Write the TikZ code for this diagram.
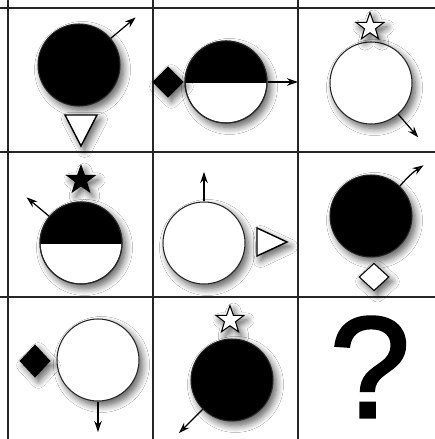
\documentclass[tikz,border=0pt]{standalone}
\usepackage{fontspec}
\newfontfamily\qfont[FakeBold=2]{Liberation Sans}
\usetikzlibrary{shapes.geometric,arrows.meta,shadows.blur,calc}
\begin{document}
\begin{tikzpicture}[x=0.02cm,y=0.02cm,
  sh/.style={blur shadow={shadow xshift=0.07cm,shadow yshift=-0.09cm,shadow blur radius=0.14cm,shadow blur steps=8,shadow opacity=65}},
  ball/.style={circle,draw=black!85,line width=0.6pt,minimum size=1.64cm,inner sep=0pt,sh},
  blackball/.style={ball,fill=black},
  whiteball/.style={ball,fill=white},
  arr/.style={line width=0.7pt,-{Stealth[length=0.22cm,width=0.15cm]}},
  gridline/.style={line width=0.9pt,black!85},
  starshape/.style={star,star points=5,star point ratio=2.5,minimum size=0.58cm,inner sep=0pt,draw=black,line width=0.6pt,sh},
  dia/.style={diamond,minimum width=0.6cm,minimum height=0.6cm,inner sep=0pt,draw=black,line width=0.6pt,sh},
  tri/.style={draw=black,line width=0.8pt,fill=white,sh}
]
\useasboundingbox (0,0) rectangle (435,439);
\clip (0,0) rectangle (435,439);
\fill[white] (0,0) rectangle (435,439);
% grid
\foreach \gx in {8,153,298,443} \draw[gridline] (\gx,-10) -- (\gx,450);
\foreach \gy in {431,287,142,-2} \draw[gridline] (-10,\gy) -- (450,\gy);

% row 1
\node[blackball] (c11) at (79,374) {};
\coordinate (t11) at ($(c11.center)+(40:74)$);
\draw[arr] (c11.40) -- (t11);
\draw[tri] (65,324) -- (97,324) -- (81,293) -- cycle;

\node[whiteball] (c12) at (226,357) {};
\fill[black] ($(c12.center)+(0.82cm,0)$) arc[start angle=0,end angle=180,radius=0.82cm] -- cycle;
\draw[line width=0.6pt] ($(c12.center)+(-0.82cm,0)$) -- ($(c12.center)+(0.82cm,0)$);
\draw[line width=0.6pt,black!85] (c12.center) circle[radius=0.82cm];
\coordinate (t12) at (298,357);
\draw[arr] (c12.east) -- (t12);
\node[dia,fill=black] (d12) at (168,357) {};

\node[whiteball] (c13) at (371,356) {};
\coordinate (t13) at ($(c13.center)+(-49:72)$);
\draw[arr] (c13.-49) -- (t13);
\node[starshape,fill=white] (s13) at (370,412) {};

% row 2
\node[whiteball] (c21) at (81,196) {};
\fill[black] ($(c21.center)+(0.82cm,0)$) arc[start angle=0,end angle=180,radius=0.82cm] -- cycle;
\draw[line width=0.6pt] ($(c21.center)+(-0.82cm,0)$) -- ($(c21.center)+(0.82cm,0)$);
\draw[line width=0.6pt,black!85] (c21.center) circle[radius=0.82cm];
\coordinate (t21) at ($(c21.center)+(140:71)$);
\draw[arr] (c21.140) -- (t21);
\node[starshape,fill=black] (s21) at (81,259) {};

\node[whiteball] (c22) at (204,196) {};
\coordinate (t22) at ($(c22.center)+(90:71)$);
\draw[arr] (c22.90) -- (t22);
\draw[tri] (257,211) -- (287,197) -- (257,183) -- cycle;

\node[blackball] (c23) at (371,223) {};
\coordinate (t23) at ($(c23.center)+(44:73)$);
\draw[arr] (c23.46) to[bend left=8] (t23);
\node[dia,fill=white,minimum width=0.6cm,minimum height=0.55cm] (d23) at (374,162) {};

% row 3
\node[whiteball] (c31) at (98,79) {};
\coordinate (t31) at ($(c31.center)+(-90:72)$);
\draw[arr] (c31.-90) -- (t31);
\node[dia,fill=black,minimum width=0.6cm,minimum height=0.64cm] (d31) at (35,78) {};

\node[blackball] (c32) at (232,59) {};
\coordinate (t32) at ($(c32.center)+(225:75)$);
\draw[arr] (c32.225) -- (t32);
\node[starshape,fill=white] (s32) at (230,119) {};

\node[font=\qfont\fontsize{82}{82}\selectfont,inner sep=0pt] (q) at (370,72) {?};
\end{tikzpicture}
\end{document}
